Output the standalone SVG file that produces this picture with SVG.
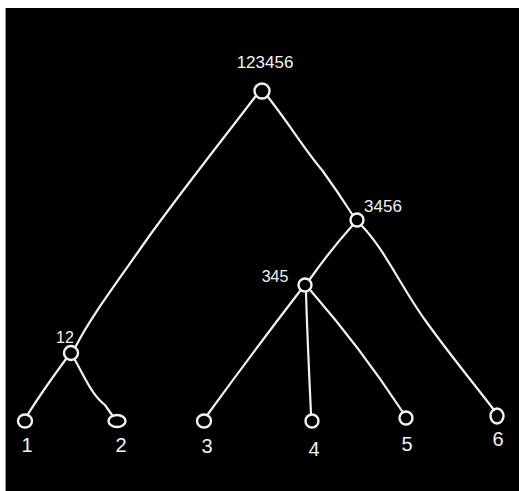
<svg xmlns="http://www.w3.org/2000/svg" width="519" height="491" viewBox="0 0 519 491">
<style>
.e{fill:none;stroke:#f2f2f2;stroke-width:2.2;stroke-linecap:round;stroke-linejoin:round}
.n{fill:none;stroke:#f2f2f2;stroke-width:2.4}
.t{fill:#f2f2f2;font-family:"Liberation Sans",Arial,sans-serif;font-size:20px;text-anchor:middle}
.s{font-size:17px}
.m{font-size:16px}
</style>
<rect x="0" y="0" width="519" height="491" fill="#ffffff"/>
<rect x="6" y="8" width="513" height="483" fill="#000000"/>
<line x1="5.5" y1="8" x2="5.5" y2="491" stroke="#999" stroke-width="1"/>
<g id="edges">
<path class="e" d="M255,97 C230,130 190,180 150,235 C115,285 90,318 76,346"/>
<path class="e" d="M268,97 C290,125 305,150 322,170 C335,188 343,200 352,214"/>
<path class="e" d="M352,226 C335,245 322,262 310,279"/>
<path class="e" d="M362,226 C385,250 400,285 425,320 C450,355 475,385 494,410"/>
<path class="e" d="M300,291 C270,330 240,370 208,414"/>
<path class="e" d="M306,292 C307,330 309,370 311,414"/>
<path class="e" d="M311,291 C345,330 375,370 402,411"/>
<path class="e" d="M66,359 C52,378 40,395 28,414"/>
<path class="e" d="M75,360 C85,378 92,395 105,405 L112,415"/>
</g>
<g id="n123456"><circle class="n" cx="262" cy="91" r="7.5"/><text class="t s" x="265" y="68">123456</text></g>
<g id="n3456"><circle class="n" cx="357" cy="220" r="6.5"/><text class="t s" x="383" y="212">3456</text></g>
<g id="n345"><circle class="n" cx="305" cy="285" r="6.5"/><text class="t m" x="275" y="282">345</text></g>
<g id="n12"><circle class="n" cx="71" cy="353" r="7"/><text class="t m" x="65" y="343">12</text></g>
<g id="n1"><ellipse class="n" cx="25" cy="421" rx="7" ry="6.5"/><text class="t" x="27" y="452">1</text></g>
<g id="n2"><ellipse class="n" cx="117" cy="421" rx="8.5" ry="6"/><text class="t" x="121" y="452">2</text></g>
<g id="n3"><ellipse class="n" cx="204" cy="421" rx="7" ry="6.5"/><text class="t" x="207" y="453">3</text></g>
<g id="n4"><circle class="n" cx="312" cy="421" r="6.5"/><text class="t" x="314" y="456">4</text></g>
<g id="n5"><circle class="n" cx="406" cy="418" r="6.5"/><text class="t" x="407" y="451">5</text></g>
<g id="n6"><ellipse class="n" cx="497" cy="416" rx="6.5" ry="7.5"/><text class="t" x="498" y="446">6</text></g>
</svg>
